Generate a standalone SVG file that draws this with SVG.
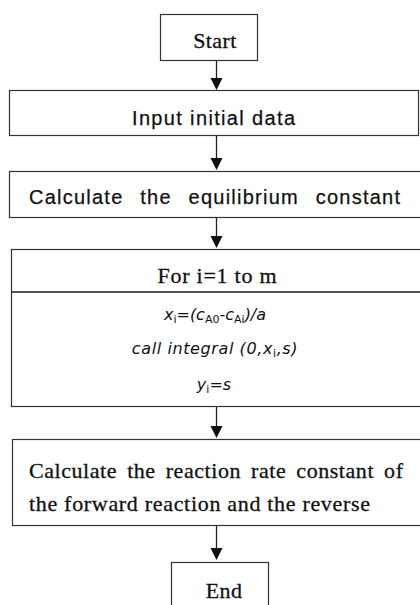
<svg xmlns="http://www.w3.org/2000/svg" width="420" height="605" viewBox="0 0 420 605">
<style>
.box{fill:#fff;stroke:#333;stroke-width:1.2}
.ln{stroke:#222;stroke-width:1.3;fill:none}
.hd{fill:#111}
.sans{font-family:"Liberation Sans",Arial,sans-serif;font-size:20px;fill:#111;stroke:#111;stroke-width:0.25}
.serif{font-family:"Liberation Serif","Times New Roman",serif;font-size:22px;fill:#111;stroke:#111;stroke-width:0.3}
.it{font-family:"DejaVu Sans",Arial,sans-serif;font-style:italic;font-size:16px;fill:#111}
.sub{font-style:normal;font-size:11px}
</style>
<rect width="420" height="605" fill="#fff"/>
<g id="start">
<rect class="box" x="160.5" y="14.5" width="97" height="46"/>
<text class="serif" x="215" y="48" text-anchor="middle" letter-spacing="0.4">Start</text>
</g>
<g id="input">
<rect class="box" x="9.5" y="90.5" width="409" height="45"/>
<text class="sans" x="132" y="125" textLength="163" lengthAdjust="spacing">Input initial data</text>
</g>
<g id="equilibrium">
<rect class="box" x="9.5" y="171.5" width="420" height="46"/>
<text class="sans" x="29" y="204" textLength="371" lengthAdjust="spacing" word-spacing="10">Calculate the equilibrium constant</text>
</g>
<g id="loop">
<rect class="box" x="11.5" y="249.5" width="420" height="157"/>
<line x1="12" y1="292" x2="420" y2="292" stroke="#555" stroke-width="2"/>
<text class="serif" x="217" y="283" textLength="119" lengthAdjust="spacing" text-anchor="middle">For i=1 to m</text>
<text class="it" x="215" y="320" text-anchor="middle">x<tspan class="sub" dy="3">i</tspan><tspan dy="-3">=(c</tspan><tspan class="sub" dy="3">A0</tspan><tspan dy="-3">-c</tspan><tspan class="sub" dy="3">Ai</tspan><tspan dy="-3">)/a</tspan></text>
<text class="it" x="215" y="354" text-anchor="middle" letter-spacing="0.6">call integral (0,x<tspan class="sub" dy="3">i</tspan><tspan dy="-3">,s)</tspan></text>
<text class="it" x="214" y="390" text-anchor="middle">y<tspan class="sub" dy="3">i</tspan><tspan dy="-3">=s</tspan></text>
</g>
<g id="rate">
<rect class="box" x="12.5" y="439.5" width="420" height="86"/>
<text class="serif" x="29" y="478" textLength="374" lengthAdjust="spacing" word-spacing="4">Calculate the reaction rate constant of</text>
<text class="serif" x="29" y="511" textLength="341" lengthAdjust="spacing">the forward reaction and the reverse</text>
</g>
<g id="end">
<rect class="box" x="171.5" y="562.5" width="97" height="60"/>
<text class="serif" x="224" y="598" text-anchor="middle" letter-spacing="0.4">End</text>
</g>
<g id="connectors">
<line class="ln" x1="216.5" y1="61" x2="216.5" y2="80"/>
<polygon class="hd" points="210.5,78 222.5,78 216.5,90"/>
<line class="ln" x1="216.5" y1="136" x2="216.5" y2="160"/>
<polygon class="hd" points="210.5,158 222.5,158 216.5,170"/>
<line class="ln" x1="216.5" y1="218" x2="216.5" y2="238"/>
<polygon class="hd" points="210.5,236 222.5,236 216.5,248"/>
<line class="ln" x1="216.5" y1="407" x2="216.5" y2="428"/>
<polygon class="hd" points="210.5,426 222.5,426 216.5,438"/>
<line class="ln" x1="216.5" y1="526" x2="216.5" y2="550"/>
<polygon class="hd" points="210.5,548 222.5,548 216.5,560"/>
</g>
</svg>
